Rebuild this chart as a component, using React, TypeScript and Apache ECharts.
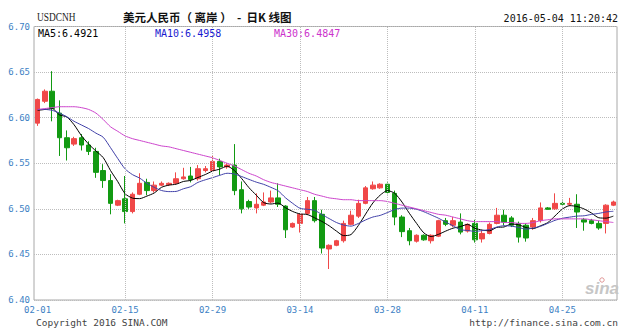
import React, { useEffect, useRef } from "react";
import * as echarts from "echarts";

const dates = [
  "02-01","02-02","02-03","02-04","02-05","02-06","02-08","02-09","02-10","02-11","02-12","02-13",
  "02-15","02-16","02-17","02-18","02-19","02-20","02-22","02-23","02-24","02-25","02-26","02-27",
  "02-29","03-01","03-02","03-03","03-04","03-05","03-07","03-08","03-09","03-10","03-11","03-12",
  "03-14","03-15","03-16","03-17","03-18","03-19","03-21","03-22","03-23","03-24","03-25","03-26",
  "03-28","03-29","03-30","03-31","04-01","04-02","04-04","04-05","04-06","04-07","04-08","04-09",
  "04-11","04-12","04-13","04-14","04-15","04-16","04-18","04-19","04-20","04-21","04-22","04-23",
  "04-25","04-26","04-27","04-28","04-29","04-30","05-03","05-04",
];
const opens = [
  6.594,6.618,6.629,6.605,6.578,6.571,6.578,6.570,6.563,6.542,6.531,6.504,
  6.511,6.497,6.516,6.529,6.520,6.526,6.5265,6.528,6.533,6.536,6.533,6.542,
  6.542,6.552,6.546,6.548,6.521,6.508,6.501,6.504,6.5075,6.512,6.503,6.480,
  6.484,6.495,6.509,6.494,6.456,6.460,6.465,6.483,6.492,6.506,6.522,6.523,
  6.527,6.517,6.491,6.476,6.4645,6.471,6.465,6.470,6.487,6.482,6.4855,6.4756,
  6.484,6.467,6.473,6.484,6.493,6.490,6.484,6.482,6.480,6.487,6.501,6.500,
  6.506,6.505,6.505,6.488,6.487,6.484,6.484,6.504,
];
const closes = [
  6.620,6.629,6.610,6.578,6.567,6.577,6.570,6.563,6.540,6.531,6.506,6.509,
  6.497,6.516,6.528,6.520,6.526,6.528,6.528,6.533,6.535,6.532,6.544,6.544,
  6.552,6.546,6.548,6.520,6.500,6.502,6.505,6.5075,6.512,6.505,6.477,6.484,
  6.494,6.509,6.487,6.457,6.460,6.465,6.484,6.493,6.506,6.523,6.526,6.527,
  6.518,6.491,6.475,6.465,6.471,6.466,6.471,6.487,6.483,6.487,6.4745,6.483,
  6.466,6.473,6.483,6.493,6.4855,6.482,6.469,6.468,6.487,6.501,6.4995,6.506,
  6.505,6.506,6.4965,6.4855,6.484,6.479,6.504,6.5075,
];
const lows = [
  6.591,6.616,6.596,6.558,6.553,6.569,6.564,6.559,6.534,6.523,6.494,6.503,
  6.484,6.495,6.515,6.515,6.518,6.525,6.525,6.527,6.532,6.529,6.531,6.540,
  6.541,6.537,6.544,6.515,6.495,6.500,6.495,6.503,6.506,6.502,6.468,6.479,
  6.474,6.493,6.485,6.451,6.434,6.459,6.463,6.482,6.490,6.505,6.521,6.522,
  6.516,6.482,6.469,6.460,6.463,6.465,6.462,6.469,6.481,6.480,6.472,6.474,
  6.463,6.463,6.472,6.483,6.482,6.480,6.463,6.464,6.477,6.485,6.499,6.499,
  6.503,6.503,6.479,6.476,6.483,6.477,6.473,6.503,
];
const highs = [
  6.621,6.631,6.651,6.619,6.586,6.579,6.582,6.574,6.567,6.549,6.538,6.510,
  6.536,6.518,6.539,6.533,6.530,6.530,6.529,6.540,6.545,6.546,6.548,6.547,
  6.559,6.555,6.550,6.571,6.530,6.510,6.517,6.518,6.520,6.528,6.504,6.485,
  6.495,6.513,6.513,6.499,6.461,6.466,6.487,6.498,6.510,6.525,6.530,6.528,
  6.529,6.520,6.493,6.479,6.472,6.472,6.472,6.488,6.490,6.491,6.495,6.484,
  6.488,6.476,6.485,6.501,6.499,6.492,6.486,6.484,6.490,6.507,6.502,6.517,
  6.509,6.512,6.516,6.490,6.489,6.487,6.505,6.509,
];
// MA values before enough in-window closes exist
const ma5Lead = [6.608, 6.609, 6.610, 6.603];
const ma10Lead = [6.609, 6.609, 6.608, 6.605, 6.601, 6.596, 6.592, 6.588, 6.583];
// MA30
const ma30 = [
  6.609,6.610,6.611,6.612,6.612,6.612,6.611,6.609,6.605,6.598,6.590,6.585,
  6.580,6.577,6.575,6.573,6.571,6.569,6.568,6.566,6.564,6.562,6.560,6.558,
  6.556,6.553,6.550,6.547,6.543,6.539,6.536,6.532,6.529,6.527,6.525,6.523,
  6.521,6.519,6.516,6.514,6.512,6.511,6.510,6.510,6.509,6.509,6.509,6.509,
  6.508,6.506,6.504,6.502,6.500,6.498,6.496,6.494,6.493,6.491,6.489,6.487,
  6.486,6.486,6.486,6.486,6.485,6.485,6.484,6.484,6.485,6.487,6.488,6.489,
  6.489,6.489,6.489,6.489,6.488,6.487,6.486,6.485,
];
const tickDates = ["02-01", "02-15", "02-29", "03-14", "03-28", "04-11", "04-25"];
const maNames = ["MA5", "MA10", "MA30"];
const maLabels = ["6.4921", "6.4958", "6.4847"];
const symbolText = "USDCNH";
const titleText = "美元人民币（ 离岸 ）  -  日K 线图";
const stampText = "2016-05-04 11:20:42";
const copyrightText = "Copyright 2016 SINA.COM";
const urlText = "http://finance.sina.com.cn";

function movingAverage(n: number, lead: number[]): number[] {
  return closes.map((_, i) => {
    if (i < n - 1) return lead[i];
    let s = 0;
    for (let k = i - n + 1; k <= i; k++) s += closes[k];
    return +(s / n).toFixed(4);
  });
}

const UP = "#f04848";
const DOWN = "#129a12";
const AXIS_BLUE = "#3d7fc4";
const MONO = '"DejaVu Sans Mono", monospace';

export default function App() {
  const ref = useRef<HTMLDivElement>(null);
  useEffect(() => {
    if (!ref.current) return;
    const chart = echarts.init(ref.current, null, { renderer: "svg" });
    const ma5 = movingAverage(5, ma5Lead);
    const ma10 = movingAverage(10, ma10Lead);
    const lineColors = ["#000000", "#4040a8", "#cc44cc"];
    const textColors = ["#000000", "#1a1ad0", "#cc33cc"];
    const labelX = [38, 155, 274];
    chart.setOption({
      animation: false,
      backgroundColor: "#ffffff",
      grid: {
        left: 34,
        right: 3,
        top: 26.5,
        bottom: 30,
        show: true,
        borderColor: "#a8a8a8",
        borderWidth: 1,
        backgroundColor: "transparent",
      },
      xAxis: {
        type: "category",
        data: dates,
        boundaryGap: true,
        axisLine: { show: false },
        axisTick: { show: false },
        splitLine: { show: false },
        axisLabel: {
          interval: (_i: number, v: string) => tickDates.includes(v),
          color: AXIS_BLUE,
          fontFamily: MONO,
          fontSize: 9,
          margin: 5,
        },
      },
      yAxis: {
        type: "value",
        min: 6.4,
        max: 6.7,
        interval: 0.05,
        axisLine: { show: false },
        axisTick: { show: false },
        axisLabel: {
          formatter: (v: number) => v.toFixed(2),
          color: AXIS_BLUE,
          fontFamily: MONO,
          fontSize: 9,
          margin: 4,
        },
        splitLine: { lineStyle: { type: "dotted", color: "#bdbdbd", width: 1 } },
      },
      series: [
        {
          type: "candlestick",
          data: dates.map((_, i) => [opens[i], closes[i], lows[i], highs[i]]),
          barWidth: 5,
          itemStyle: {
            color: UP,
            color0: DOWN,
            borderColor: UP,
            borderColor0: DOWN,
            borderWidth: 1,
          },
          markLine: {
            silent: true,
            symbol: "none",
            label: { show: false },
            lineStyle: { type: "dotted", color: "#bdbdbd", width: 1 },
            data: tickDates.slice(1).map((d) => ({ xAxis: d })),
          },
          z: 2,
        },
        ...[ma5, ma10, ma30].map((d, k) => ({
          type: "line",
          name: maNames[k],
          data: d,
          symbol: "none",
          smooth: 0.25,
          lineStyle: { color: lineColors[k], width: 1 },
          z: 3,
        })),
      ],
      graphic: [
        {
          type: "text",
          x: 37,
          y: 17,
          scaleX: 0.78,
          style: {
            text: symbolText,
            font: '12px "Liberation Serif"',
            fill: "#222",
            textVerticalAlign: "middle",
          },
        },
        {
          type: "text",
          x: 123,
          y: 17,
          style: {
            text: titleText,
            font: 'bold 11.5px "Noto Sans CJK SC"',
            fill: "#111",
            textVerticalAlign: "middle",
          },
        },
        {
          type: "text",
          x: 618,
          y: 18,
          style: {
            text: stampText,
            font: "10px " + MONO,
            fill: "#111",
            textAlign: "right",
            textVerticalAlign: "middle",
          },
        },
        ...maNames.map((n, k) => ({
          type: "text",
          x: labelX[k],
          y: 33,
          z: 10,
          style: {
            text: n + ":" + maLabels[k],
            font: "10px " + MONO,
            fill: textColors[k],
            textVerticalAlign: "middle",
          },
        })),
        {
          type: "text",
          x: 36,
          y: 322,
          style: {
            text: copyrightText,
            font: "9.5px " + MONO,
            fill: "#444",
            textVerticalAlign: "middle",
          },
        },
        {
          type: "text",
          x: 618,
          y: 322,
          style: {
            text: urlText,
            font: "9.5px " + MONO,
            fill: "#444",
            textAlign: "right",
            textVerticalAlign: "middle",
          },
        },
        {
          type: "text",
          x: 585,
          y: 297,
          z: 10,
          style: {
            text: "sina",
            font: 'italic bold 17px "Liberation Sans"',
            fill: "#c6c6c6",
            textVerticalAlign: "bottom",
          },
        },
        {
          type: "circle",
          shape: { cx: 602, cy: 280, r: 2.2 },
          z: 10,
          style: { fill: "none", stroke: "#e29a9a", lineWidth: 1 },
        },
      ],
    });
    return () => chart.dispose();
  }, []);
  return (
    <div
      ref={ref}
      style={{ position: "absolute", left: 0, top: 0, width: 620, height: 330 }}
    />
  );
}
